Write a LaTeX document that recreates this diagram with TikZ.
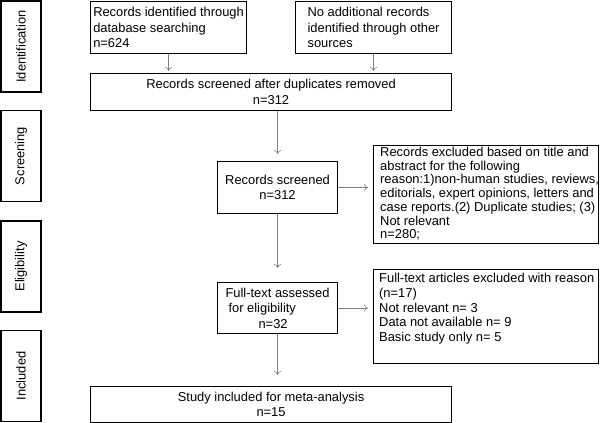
\documentclass[tikz,border=0pt]{standalone}
\usepackage{fontspec}
\setmainfont{Liberation Sans}
\usetikzlibrary{arrows.meta}
\tikzset{box/.style={draw, line width=1.1pt, anchor=north west, inner sep=1pt,
           align=center, font=\fontsize{12.9}{15.5}\selectfont},
         stage/.style={draw, line width=1.1pt, rotate=90, minimum width=91pt,
           minimum height=40pt, inner sep=0pt, font=\fontsize{12.9}{15.5}\selectfont},
         flow/.style={draw=black!50, line width=0.6pt, -{To[length=4pt,width=7pt]}}}

\begin{document}
\begin{tikzpicture}[x=1pt,y=-1pt]
  \useasboundingbox (0,0) rectangle (600,423);
  % stages on the left
  \node[stage] (stid) at (21,46.5) {Identification};
  \node[stage] (stscr) at (21,156) {Screening};
  \node[stage] (stel) at (21,266.5) {Eligibility};
  \node[stage] (stinc) at (21,376) {Included};
  % flow boxes
  \node[box, align=left, minimum width=156pt, minimum height=52pt] (dbrec) at (90,1)
    {Records identified through\\database searching\\n=624};
  \node[box, align=left, minimum width=156pt, minimum height=52pt] (othrec) at (295,1)
    {No additional records\\identified through other\\sources};
  \node[box, minimum width=361pt, minimum height=37pt] (dup) at (90,73)
    {Records screened after duplicates removed\\n=312};
  \node[box, minimum width=120pt, minimum height=52pt] (screened) at (217,161)
    {Records screened\\n=312};
  \node[box, minimum width=225pt, minimum height=98pt] (excl) at (373,145) {};
  \node[anchor=north west, align=left, inner sep=0pt, font=\fontsize{12.9}{13.7}\selectfont]
    (excltxt) at (380,147)
    {Records excluded based on title and\\abstract for the following\\reason:1)non-human studies, reviews,\\editorials, expert opinions, letters and\\case reports.(2) Duplicate studies; (3)\\Not relevant\\n=280;};
  \node[box, align=left, minimum width=120pt, minimum height=51pt] (fulltxt) at (217,282)
    {Full-text assessed\\\hspace*{3pt}for eligibility\\\hspace*{33pt}n=32};
  \node[box, minimum width=225pt, minimum height=94pt] (ftexcl) at (373,269) {};
  \node[anchor=north west, align=left, inner sep=0pt, font=\fontsize{12.9}{14.8}\selectfont]
    (ftexcltxt) at (379,273)
    {Full-text articles excluded with reason\\(n=17)\\Not relevant n= 3\\Data not available n= 9\\Basic study only n= 5};
  \node[box, minimum width=361pt, minimum height=36pt] (incl) at (90,386)
    {Study included for meta-analysis\\n=15};
  % arrows
  \draw[flow, shorten >=2pt] (dbrec.south) -- (dbrec.south |- dup.north);
  \draw[flow, shorten >=2pt] (othrec.south) -- (othrec.south |- dup.north);
  \draw[flow, shorten >=7pt] (screened.north |- dup.south) -- (screened.north);
  \draw[flow, shorten >=14pt] (screened.south) -- (fulltxt.north);
  \draw[flow, shorten >=11pt] (fulltxt.south) -- (fulltxt.south |- incl.north);
  \draw[flow, shorten >=5pt] (screened.east) -- (screened.east -| excl.west);
  \draw[flow, shorten >=5pt] (fulltxt.east) -- (fulltxt.east -| ftexcl.west);
\end{tikzpicture}
\end{document}
